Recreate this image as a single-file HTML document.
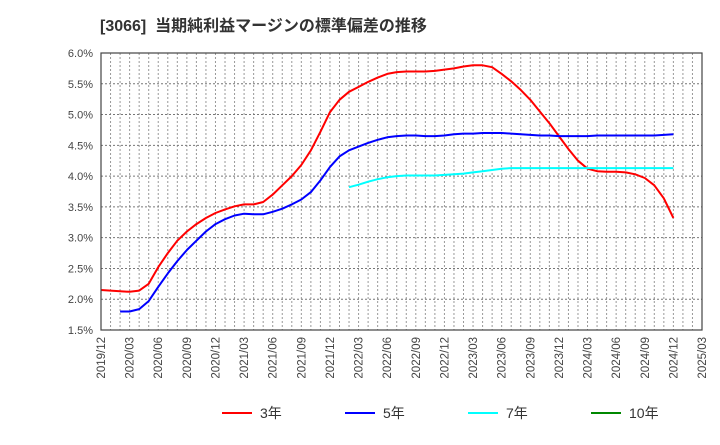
<!DOCTYPE html>
<html><head><meta charset="utf-8"><style>
body{margin:0;background:#fff;font-family:"Liberation Sans","Noto Sans CJK JP",sans-serif;}
</style></head><body>
<svg width="720" height="440" xmlns="http://www.w3.org/2000/svg" id="svg">
<text x="100" y="31" font-size="16" font-weight="bold" fill="#333" font-family="Liberation Sans, Noto Sans CJK JP, sans-serif" xml:space="preserve">[3066]  当期純利益マージンの標準偏差の推移</text>
<g id="grid"></g><g id="lines"></g><g id="axes"></g><g id="legend"></g>
</svg>
<script>
const xLabels=["2019/12","2020/03","2020/06","2020/09","2020/12","2021/03","2021/06","2021/09","2021/12","2022/03","2022/06","2022/09","2022/12","2023/03","2023/06","2023/09","2023/12","2024/03","2024/06","2024/09","2024/12","2025/03"];
const yTicks=[1.5,2.0,2.5,3.0,3.5,4.0,4.5,5.0,5.5,6.0];
const s3=[2.15,2.14,2.13,2.12,2.14,2.25,2.52,2.75,2.95,3.1,3.22,3.32,3.4,3.46,3.51,3.54,3.54,3.58,3.7,3.85,4.0,4.18,4.42,4.72,5.04,5.24,5.37,5.45,5.53,5.6,5.66,5.69,5.7,5.7,5.7,5.71,5.73,5.75,5.78,5.8,5.8,5.77,5.66,5.54,5.4,5.24,5.05,4.86,4.65,4.44,4.25,4.12,4.08,4.07,4.07,4.06,4.03,3.97,3.85,3.64,3.32];
const s5start=2;
const s5=[1.8,1.8,1.84,1.97,2.2,2.42,2.62,2.8,2.95,3.1,3.22,3.3,3.36,3.39,3.38,3.38,3.42,3.47,3.54,3.62,3.74,3.93,4.15,4.32,4.42,4.48,4.54,4.59,4.63,4.65,4.66,4.66,4.65,4.65,4.66,4.68,4.69,4.69,4.7,4.7,4.7,4.69,4.68,4.67,4.66,4.66,4.65,4.65,4.65,4.65,4.66,4.66,4.66,4.66,4.66,4.66,4.66,4.67,4.68];
const s7start=26;
const s7=[3.82,3.86,3.91,3.95,3.98,4.0,4.01,4.01,4.01,4.01,4.02,4.03,4.04,4.06,4.08,4.1,4.12,4.13,4.13,4.13,4.13,4.13,4.13,4.13,4.13,4.13,4.13,4.13,4.13,4.13,4.13,4.13,4.13,4.13,4.13];
const L=101,R=702,T=53,B=330,NM=63,ymin=1.5,ymax=6.0;
const X=i=>L+(R-L)*i/NM, Y=v=>B-(v-ymin)/(ymax-ymin)*(B-T);
const NS="http://www.w3.org/2000/svg";
function mk(t,a,p){const e=document.createElementNS(NS,t);for(const k in a)e.setAttribute(k,a[k]);p.appendChild(e);return e;}
const grid=document.getElementById('grid'),axes=document.getElementById('axes'),lines=document.getElementById('lines'),legend=document.getElementById('legend');
for(let m=1;m<NM;m++){const g=mk('line',{x1:X(m),x2:X(m),y1:T,y2:B,stroke:'#999','stroke-dasharray':'2,2','stroke-width':1},grid);

}
yTicks.forEach(v=>{const g=mk('line',{x1:L,x2:R,y1:Y(v),y2:Y(v),stroke:'#777','stroke-dasharray':'2,2','stroke-width':1},grid);


const t=mk('text',{x:L-8,y:Y(v)+4,'text-anchor':'end','font-size':11,fill:'#444'},axes);t.textContent=v.toFixed(1)+'%';

});
const fr=mk('rect',{x:L,y:T,width:R-L,height:B-T,fill:'none',stroke:'#444','stroke-width':1.2},axes);


xLabels.forEach((lb,i)=>{const x=X(i*3),y=B+7;const t=mk('text',{x:x+4,y:y,'text-anchor':'end','font-size':11.5,fill:'#444',transform:`rotate(-90 ${x+4} ${y})`},axes);t.textContent=lb;

});
function series(arr,start,col,name){const d=arr.map((v,i)=>(i?'L':'M')+X(start+i).toFixed(1)+','+Y(v).toFixed(1)).join('');
const p=mk('path',{d:d,fill:'none',stroke:col,'stroke-width':2,'stroke-linejoin':'round'},lines);

}
series(s3,0,'#f00','line-3y');series(s5,s5start,'#00f','line-5y');series(s7,s7start,'#0ff','line-7y');
const leg=[['3年','#f00',222],['5年','#00f',345],['7年','#0ff',468],['10年','#080',591]];
leg.forEach(([n,c,x])=>{const g=mk('g',{},legend);


mk('line',{x1:x,x2:x+30,y1:413,y2:413,stroke:c,'stroke-width':2},g);
const t=mk('text',{x:x+38,y:418,'font-size':14,fill:'#333'},g);t.textContent=n;});
</script>
</body></html>
